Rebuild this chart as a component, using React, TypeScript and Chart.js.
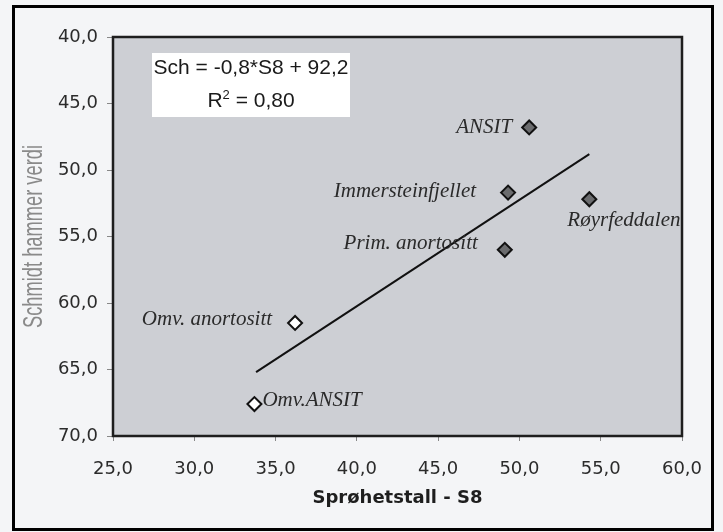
import React, { useEffect, useRef } from 'react';
import { Chart, registerables } from 'chart.js';

Chart.register(...registerables);

// ---- data ----
const filledNames = ['ANSIT', 'Immersteinfjellet', 'Røyrfeddalen', 'Prim. anortositt'];
const filledX = [50.6, 49.3, 54.3, 49.1];
const filledY = [46.8, 51.7, 52.2, 56.0];

const openNames = ['Omv. anortositt', 'Omv.ANSIT'];
const openX = [36.2, 33.7];
const openY = [61.5, 67.6];

const trendX = [33.8, 54.3];
const trendY = [65.2, 48.8];

const xTickValues = [25, 30, 35, 40, 45, 50, 55, 60];
const yTickValues = [40, 45, 50, 55, 60, 65, 70];

const xTitle = 'Sprøhetstall - S8';
const yTitle = 'Schmidt hammer verdi';
const equationText = 'Sch = -0,8*S8 + 92,2';
const r2Text = '0,80';

// ---- label placement (styles, offsets from the point in px) ----
const labelPlacement: Record<string, { dx: number; dy: number; align: CanvasTextAlign }> = {
  'ANSIT': { dx: -17, dy: 0, align: 'right' },
  'Immersteinfjellet': { dx: -32, dy: -1, align: 'right' },
  'Røyrfeddalen': { dx: -22, dy: 21, align: 'left' },
  'Prim. anortositt': { dx: -27, dy: -6, align: 'right' },
  'Omv. anortositt': { dx: -23, dy: -3, align: 'right' },
  'Omv.ANSIT': { dx: 8, dy: -4, align: 'left' },
};

const fmt = (v: number) => Number(v).toFixed(1).replace('.', ',');

const decorPlugin = {
  id: 'decor',
  beforeDraw(chart: any) {
    const { ctx, chartArea: ca, width, height } = chart;
    ctx.save();
    ctx.fillStyle = '#f4f5f7';
    ctx.fillRect(0, 0, width, height);
    ctx.fillStyle = '#cdcfd4';
    ctx.fillRect(ca.left, ca.top, ca.right - ca.left, ca.bottom - ca.top);
    ctx.restore();
  },
  afterDatasetsDraw(chart: any) {
    const { ctx, chartArea: ca } = chart;
    ctx.save();
    ctx.beginPath();
    ctx.rect(ca.left, ca.top, ca.right - ca.left, ca.bottom - ca.top);
    ctx.clip();
    ctx.font = 'italic 21px "Liberation Serif", "Times New Roman", serif';
    ctx.fillStyle = '#2a2a2a';
    ctx.textBaseline = 'middle';
    chart.data.datasets.forEach((ds: any, di: number) => {
      if (!ds.names) return;
      const meta = chart.getDatasetMeta(di);
      meta.data.forEach((pt: any, i: number) => {
        const name = ds.names[i];
        const p = labelPlacement[name];
        ctx.textAlign = p.align;
        ctx.fillText(name, pt.x + p.dx, pt.y + p.dy);
      });
    });
    ctx.restore();

    // equation box
    ctx.save();
    const bx = ca.left + 39, by = ca.top + 16, bw = 198, bh = 64;
    ctx.fillStyle = '#ffffff';
    ctx.fillRect(bx, by, bw, bh);
    ctx.fillStyle = '#1a1a1a';
    ctx.textBaseline = 'alphabetic';
    ctx.font = '21px "Liberation Sans", Arial, sans-serif';
    ctx.textAlign = 'center';
    ctx.fillText(equationText, bx + bw / 2, by + 21);
    const wR = ctx.measureText('R').width;
    const rest = ' = ' + r2Text;
    const wRest = ctx.measureText(rest).width;
    ctx.font = '13px "Liberation Sans", Arial, sans-serif';
    const w2 = ctx.measureText('2').width;
    const total = wR + w2 + wRest;
    let x = bx + bw / 2 - total / 2;
    const base = by + 54;
    ctx.textAlign = 'left';
    ctx.font = '21px "Liberation Sans", Arial, sans-serif';
    ctx.fillText('R', x, base);
    x += wR;
    ctx.font = '13px "Liberation Sans", Arial, sans-serif';
    ctx.fillText('2', x, base - 8);
    x += w2;
    ctx.font = '21px "Liberation Sans", Arial, sans-serif';
    ctx.fillText(rest, x, base);
    ctx.restore();
  },
  afterDraw(chart: any) {
    const { ctx, chartArea: ca } = chart;
    ctx.save();
    // plot frame
    ctx.strokeStyle = '#1e1e1e';
    ctx.lineWidth = 2.5;
    ctx.strokeRect(ca.left, ca.top, ca.right - ca.left, ca.bottom - ca.top);
    // outer frame
    ctx.strokeStyle = '#000';
    ctx.lineWidth = 3;
    ctx.strokeRect(13.5, 6.5, 699, 523);
    // y title (condensed)
    ctx.translate(42, (ca.top + ca.bottom) / 2);
    ctx.rotate(-Math.PI / 2);
    ctx.font = '27px "Liberation Sans", Arial, sans-serif';
    const w = ctx.measureText(yTitle).width;
    ctx.scale(183 / w, 1);
    ctx.fillStyle = '#8a8a8a';
    ctx.textAlign = 'center';
    ctx.textBaseline = 'alphabetic';
    ctx.fillText(yTitle, 0, 0);
    ctx.restore();
  },
};

export default function App() {
  const ref = useRef<HTMLCanvasElement | null>(null);
  useEffect(() => {
    document.body.style.margin = '0';
    document.body.style.overflow = 'hidden';
    const canvas = ref.current!;
    const chart = new Chart(canvas, {
      type: 'scatter',
      data: {
        datasets: [
          {
            names: filledNames,
            data: filledX.map((x, i) => ({ x, y: filledY[i] })),
            pointStyle: 'rectRot',
            pointRadius: 7,
            pointBackgroundColor: '#6b6c6e',
            pointBorderColor: '#111',
            pointBorderWidth: 2,
            order: 1,
          } as any,
          {
            names: openNames,
            data: openX.map((x, i) => ({ x, y: openY[i] })),
            pointStyle: 'rectRot',
            pointRadius: 7,
            pointBackgroundColor: '#ffffff',
            pointBorderColor: '#111',
            pointBorderWidth: 2,
            order: 1,
          } as any,
          {
            data: trendX.map((x, i) => ({ x, y: trendY[i] })),
            showLine: true,
            borderColor: '#111',
            borderWidth: 2,
            pointRadius: 0,
            order: 2,
          } as any,
        ],
      },
      options: {
        animation: false,
        responsive: false,
        maintainAspectRatio: false,
        layout: { padding: { left: 0, top: 37, right: 41, bottom: 0 } },
        plugins: { legend: { display: false }, tooltip: { enabled: false } },
        scales: {
          x: {
            type: 'linear',
            min: 25,
            max: 60,
            afterBuildTicks: (s: any) => { s.ticks = xTickValues.map((v) => ({ value: v })); },
            afterFit: (s: any) => { s.height = 96; },
            ticks: {
              callback: (v: any) => fmt(v),
              color: '#2b2b2b',
              font: { family: '"DejaVu Sans", sans-serif', size: 18 },
              padding: 18,
              maxRotation: 0,
            },
            grid: { drawOnChartArea: false, drawTicks: true, tickLength: 5, color: '#888' },
            border: { display: false },
            title: {
              display: true,
              text: xTitle,
              color: '#1e1e1e',
              font: { family: '"DejaVu Sans", sans-serif', size: 18, weight: 'bold' },
              padding: { top: 0, bottom: 23 },
            },
          },
          y: {
            type: 'linear',
            min: 40,
            max: 70,
            reverse: true,
            afterBuildTicks: (s: any) => { s.ticks = yTickValues.map((v) => ({ value: v })); },
            afterFit: (s: any) => { s.width = 113; },
            ticks: {
              callback: (v: any) => fmt(v),
              color: '#2b2b2b',
              font: { family: '"DejaVu Sans", sans-serif', size: 18 },
              padding: 9,
            },
            grid: { drawOnChartArea: false, drawTicks: true, tickLength: 6, color: '#888' },
            border: { display: false },
            title: { display: false },
          },
        },
      },
      plugins: [decorPlugin],
    } as any);
    return () => chart.destroy();
  }, []);
  return (
    <div style={{ width: 723, height: 532 }}>
      <canvas ref={ref} width={723} height={532} style={{ display: 'block', width: 723, height: 532 }} />
    </div>
  );
}
